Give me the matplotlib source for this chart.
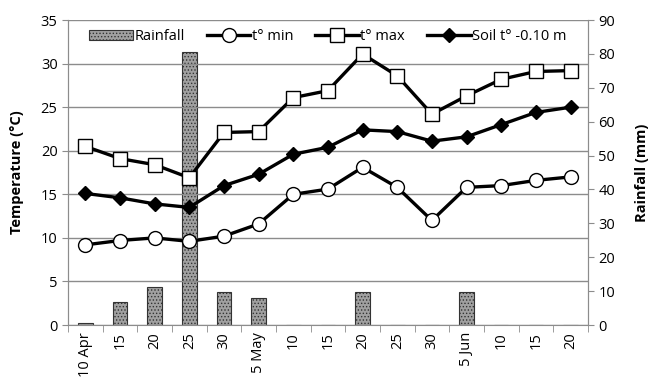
import numpy as np
import matplotlib
matplotlib.use("Agg")
import matplotlib.pyplot as plt

# data
dates = ['10 Apr', '15', '20', '25', '30', '5 May', '10', '15', '20', '25',
         '30', '5 Jun', '10', '15', '20']
rainfall = [0.5, 6.7, 11.3, 80.5, 9.8, 8.0, 0, 0, 9.8, 0, 0, 9.8, 0, 0, 0]
t_min = [9.2, 9.7, 10.0, 9.6, 10.2, 11.6, 15.0, 15.6, 18.1, 15.8, 12.0, 15.8, 16.0, 16.6, 17.0]
t_max = [20.5, 19.1, 18.4, 16.9, 22.1, 22.2, 26.1, 26.9, 31.1, 28.6, 24.2, 26.3, 28.2, 29.1, 29.2]
soil = [15.1, 14.6, 13.9, 13.5, 16.0, 17.3, 19.6, 20.4, 22.4, 22.2, 21.1, 21.6, 23.0, 24.4, 25.0]

plt.rcParams['font.family'] = ['Open Sans', 'DejaVu Sans']
plt.rcParams['font.size'] = 10.5
plt.rcParams['hatch.color'] = '#444444'
plt.rcParams['hatch.linewidth'] = 0.6

fig = plt.figure(figsize=(6.51, 3.86), dpi=100)
ax = fig.add_axes([0.1045, 0.158, 0.7985, 0.79])
ax2 = ax.twinx()

x = np.arange(len(dates))

# rainfall bars on the right axis
bars = ax2.bar(x, rainfall, width=0.42, facecolor='#a0a0a0', edgecolor='#333333',
               hatch='.....', linewidth=0.8, label='Rainfall')
ax2.set_ylim(0, 90)
ax2.set_yticks(range(0, 91, 10))
ax2.set_ylabel('Rainfall (mm)', fontweight='bold', labelpad=14)

# temperature lines on left axis, drawn above bars
ax.set_zorder(ax2.get_zorder() + 1)
ax.patch.set_visible(False)
l1, = ax.plot(x, t_min, color='black', lw=2.4, marker='o', ms=10,
              mfc='white', mec='black', mew=1.0, label='t° min')
l2, = ax.plot(x, t_max, color='black', lw=2.4, marker='s', ms=10,
              mfc='white', mec='black', mew=1.0, label='t° max')
l3, = ax.plot(x, soil, color='black', lw=2.4, marker='D', ms=7,
              mfc='black', mec='black', label='Soil t° -0.10 m')

ax.set_ylim(0, 35)
ax.set_yticks(range(0, 36, 5))
ax.set_xlim(-0.5, len(dates) - 0.5)
ax.set_ylabel('Temperature (°C)', fontweight='bold', labelpad=12)
ax.yaxis.grid(True, color='#8c8c8c', lw=1.0)
ax.set_axisbelow(True)

ax.set_xticks(x)
ax.set_xticklabels(dates, rotation=90)
ax.tick_params(axis='x', length=0, pad=5)
ax.set_xticks(np.arange(-0.5, len(dates), 1), minor=True)
ax.tick_params(axis='x', which='minor', length=5, color='#8c8c8c')
ax.tick_params(axis='y', length=4, color='#8c8c8c')
ax2.tick_params(axis='y', length=4, color='#8c8c8c')

for a in (ax, ax2):
    for s in a.spines.values():
        s.set_color('#8c8c8c')
    a.spines['top'].set_visible(False)
ax2.spines['bottom'].set_visible(False)

ax.legend([bars, l1, l2, l3], ['Rainfall', 't° min', 't° max', 'Soil t° -0.10 m'],
          loc='upper center', ncol=4, frameon=False, handlelength=3.0,
          handletextpad=0.1, columnspacing=1.5, bbox_to_anchor=(0.5, 1.0),
          borderaxespad=0.2)

fig.savefig('out.png', dpi=100)
